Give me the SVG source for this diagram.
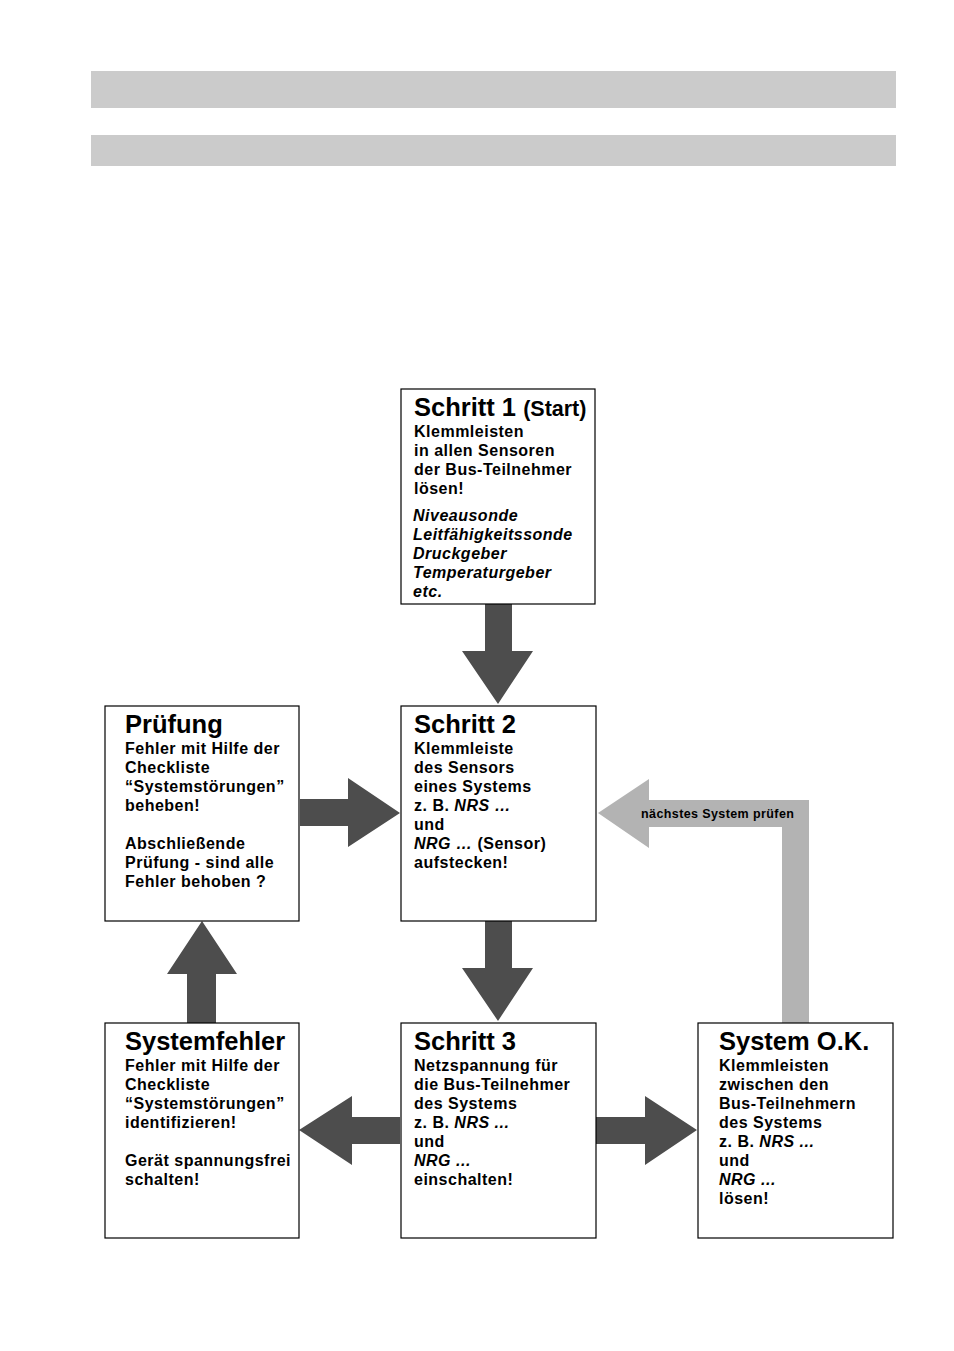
<svg xmlns="http://www.w3.org/2000/svg" width="954" height="1351" viewBox="0 0 954 1351">
<style>
.box{fill:#fff;stroke:#000;stroke-width:1.2}
.t{font-family:"Liberation Sans",Arial,sans-serif;font-weight:bold;fill:#000}
.h{font-size:25.5px}
.b{font-size:16px;letter-spacing:0.5px}
.i{font-style:italic}
.dark{fill:#4d4d4d}
.lite{fill:#b3b3b3}
</style>
<rect width="954" height="1351" fill="#fff"/>
<rect x="91" y="71" width="805" height="37" fill="#cbcbcb"/>
<rect x="91" y="135" width="805" height="31" fill="#cbcbcb"/>

<g id="connectors">
  <polygon class="dark" points="485,604 512,604 512,651 533,651 498,704 462,651 485,651"/>
  <polygon class="dark" points="485,921 512,921 512,968 533,968 498,1021 462,968 485,968"/>
  <polygon class="dark" points="300,799 348,799 348,778 400,813 348,847 348,826 300,826"/>
  <polygon class="dark" points="187,1023 187,974 167,974 202,921 237,974 216,974 216,1023"/>
  <polygon class="dark" points="400,1117 352,1117 352,1096 299,1130 352,1165 352,1144 400,1144"/>
  <polygon class="dark" points="596,1117 645,1117 645,1096 697,1130 645,1165 645,1144 596,1144"/>
  <polygon class="lite" points="782,1023 782,827 649,827 649,848 598,813 649,779 649,800 809,800 809,1023"/>
  <text class="t" x="641" y="818" font-size="12.5" letter-spacing="0.4">nächstes System prüfen</text>
</g>

<g id="schritt1">
  <rect class="box" x="401" y="389" width="194" height="215"/>
  <text class="t h" x="414" y="416">Schritt 1 <tspan font-size="21.5">(Start)</tspan></text>
  <text class="t b" x="414" y="437">Klemmleisten</text>
  <text class="t b" x="414" y="456">in allen Sensoren</text>
  <text class="t b" x="414" y="475">der Bus-Teilnehmer</text>
  <text class="t b" x="414" y="494">lösen!</text>
  <text class="t b i" x="413" y="521">Niveausonde</text>
  <text class="t b i" x="413" y="540">Leitfähigkeitssonde</text>
  <text class="t b i" x="413" y="559">Druckgeber</text>
  <text class="t b i" x="413" y="578">Temperaturgeber</text>
  <text class="t b i" x="413" y="597">etc.</text>
</g>

<g id="pruefung">
  <rect class="box" x="105" y="706" width="194" height="215"/>
  <text class="t h" x="125" y="733">Prüfung</text>
  <text class="t b" x="125" y="754">Fehler mit Hilfe der</text>
  <text class="t b" x="125" y="773">Checkliste</text>
  <text class="t b" x="125" y="792">“Systemstörungen”</text>
  <text class="t b" x="125" y="811">beheben!</text>
  <text class="t b" x="125" y="849">Abschließende</text>
  <text class="t b" x="125" y="868">Prüfung - sind alle</text>
  <text class="t b" x="125" y="887">Fehler behoben ?</text>
</g>

<g id="schritt2">
  <rect class="box" x="401" y="706" width="195" height="215"/>
  <text class="t h" x="414" y="733">Schritt 2</text>
  <text class="t b" x="414" y="754">Klemmleiste</text>
  <text class="t b" x="414" y="773">des Sensors</text>
  <text class="t b" x="414" y="792">eines Systems</text>
  <text class="t b" x="414" y="811">z. B. <tspan class="i">NRS …</tspan></text>
  <text class="t b" x="414" y="830">und</text>
  <text class="t b" x="414" y="849"><tspan class="i">NRG …</tspan> (Sensor)</text>
  <text class="t b" x="414" y="868">aufstecken!</text>
</g>

<g id="systemfehler">
  <rect class="box" x="105" y="1023" width="194" height="215"/>
  <text class="t h" x="125" y="1050">Systemfehler</text>
  <text class="t b" x="125" y="1071">Fehler mit Hilfe der</text>
  <text class="t b" x="125" y="1090">Checkliste</text>
  <text class="t b" x="125" y="1109">“Systemstörungen”</text>
  <text class="t b" x="125" y="1128">identifizieren!</text>
  <text class="t b" x="125" y="1166">Gerät spannungsfrei</text>
  <text class="t b" x="125" y="1185">schalten!</text>
</g>

<g id="schritt3">
  <rect class="box" x="401" y="1023" width="195" height="215"/>
  <text class="t h" x="414" y="1050">Schritt 3</text>
  <text class="t b" x="414" y="1071">Netzspannung für</text>
  <text class="t b" x="414" y="1090">die Bus-Teilnehmer</text>
  <text class="t b" x="414" y="1109">des Systems</text>
  <text class="t b" x="414" y="1128">z. B. <tspan class="i">NRS ...</tspan></text>
  <text class="t b" x="414" y="1147">und</text>
  <text class="t b i" x="414" y="1166">NRG ...</text>
  <text class="t b" x="414" y="1185">einschalten!</text>
</g>

<g id="systemok">
  <rect class="box" x="698" y="1023" width="195" height="215"/>
  <text class="t h" x="719" y="1050">System O.K.</text>
  <text class="t b" x="719" y="1071">Klemmleisten</text>
  <text class="t b" x="719" y="1090">zwischen den</text>
  <text class="t b" x="719" y="1109">Bus-Teilnehmern</text>
  <text class="t b" x="719" y="1128">des Systems</text>
  <text class="t b" x="719" y="1147">z. B. <tspan class="i">NRS ...</tspan></text>
  <text class="t b" x="719" y="1166">und</text>
  <text class="t b i" x="719" y="1185">NRG ...</text>
  <text class="t b" x="719" y="1204">lösen!</text>
</g>
</svg>
